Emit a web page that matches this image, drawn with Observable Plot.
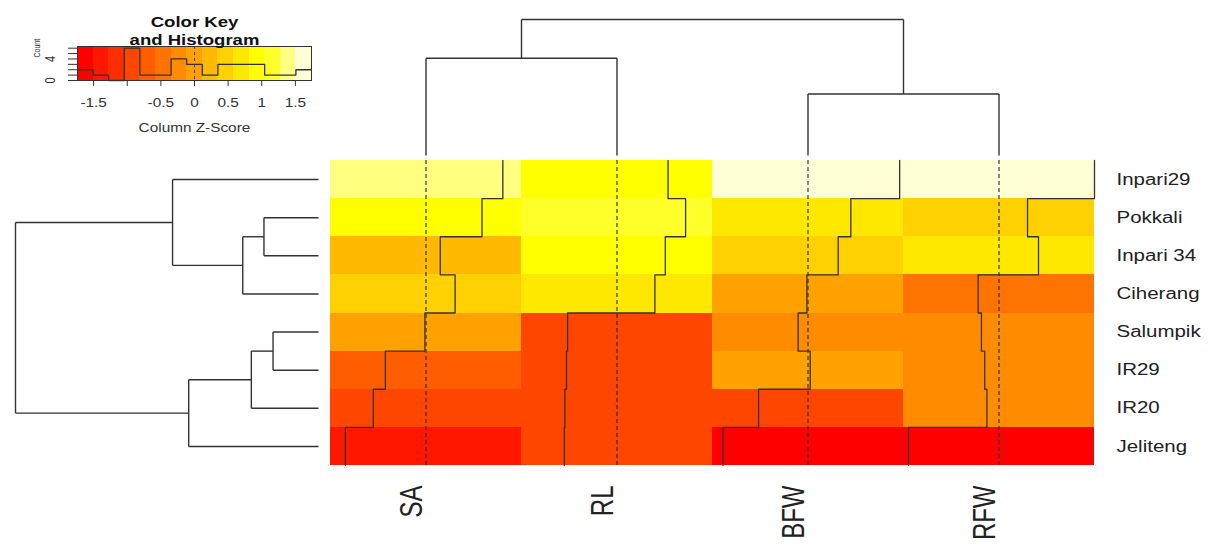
<!DOCTYPE html>
<html><head><meta charset="utf-8">
<script src="https://cdn.jsdelivr.net/npm/d3@7"></script>
<script src="https://cdn.jsdelivr.net/npm/@observablehq/plot@0.6"></script>
<style>
html,body{margin:0;padding:0;background:#fff;}
#chart{position:relative;width:1208px;height:546px;overflow:hidden;font-family:"Liberation Sans",Arial,sans-serif;}
#chart .layer{position:absolute;left:0;top:0;max-width:none !important;}
</style></head><body><div id="chart"></div>
<script>
// ---------- data ----------
const columns = ["SA", "RL", "BFW", "RFW"];
const rows = ["Inpari29", "Pokkali", "Inpari 34", "Ciherang", "Salumpik", "IR29", "IR20", "Jeliteng"];
// column z-scores per row (row order as displayed)
const zSA  = [1.40, 1.02, 0.26, 0.53, -0.02, -0.74, -0.96, -1.47];
const zRL  = [0.93, 1.25, 0.88, 0.69, -0.90, -0.92, -0.95, -0.96];
const zBFW = [1.67, 0.78, 0.55, -0.02, -0.18, 0.04, -0.90, -1.55];
const zRFW = [1.74, 0.52, 0.72, -0.38, -0.32, -0.26, -0.22, -1.65];
// dendrograms (hclust-style merges: negative = leaf, positive = earlier merge)
const rowMerge  = [[-2, -3], [1, -4], [-1, 2], [-5, -6], [4, -7], [5, -8], [3, 6]];
const rowHeight = [1.08, 1.50, 2.89, 0.90, 1.33, 2.57, 6.00];
const colMerge  = [[-1, -2], [-3, -4], [1, 2]];
const colHeight = [2.86, 1.81, 4.00];
// colour key
const keyLimit = 1.74;
const nColors = 15;
const keyTicks = [-1.5, -1, -0.5, 0, 0.5, 1, 1.5];
const keyTickLabels = ["-1.5", "", "-0.5", "0", "0.5", "1", "1.5"];
const countTicks = [0, 1, 2, 3, 4, 5, 6];
const countTickLabels = ["0", "", "", "", "4", "", ""];

// ---------- derived ----------
const L = keyLimit;
function heatColors(n) {
  const j = Math.floor(n / 4), i = n - j, out = [];
  for (let k = 0; k < i; k++) out.push(d3.hsl((i > 1 ? k / (i - 1) : 0) * 60, 1, 0.5).formatHex());
  const s0 = 1 - 1 / (2 * j), s1 = 1 / (2 * j);
  for (let k = 0; k < j; k++) {
    const s = j > 1 ? s0 + k * (s1 - s0) / (j - 1) : 0.5;
    out.push(d3.rgb(255, 255, Math.round(255 * (1 - s))).formatHex());
  }
  return out;
}
const breaks = d3.range(nColors + 1).map(k => -L + k * 2 * L / nColors);
const palette = heatColors(nColors);
const colorScale = {type: "threshold", domain: breaks.slice(1, -1), range: palette};
const colValues = [zSA, zRL, zBFW, zRFW];
const cells = columns.flatMap((c, ci) => rows.map((r, ri) => ({col: ci, row: ri, z: colValues[ci][ri]})));
const frac = z => (z + L) / (2 * L);
const trace = columns.flatMap((c, ci) => rows.flatMap((r, ri) => {
  const x = ci + frac(colValues[ci][ri]);
  return [{col: c, x, y: ri}, {col: c, x, y: ri + 1}];
}));
function dendro(merge, heights) {
  const pos = [], segs = [];
  const P = m => m < 0 ? (-m - 1) + 0.5 : pos[m - 1];
  const H = m => m < 0 ? 0 : heights[m - 1];
  merge.forEach(([a, b], k) => {
    const h = heights[k];
    pos[k] = (P(a) + P(b)) / 2;
    segs.push({p1: P(a), h1: h, p2: P(b), h2: h});
    segs.push({p1: P(a), h1: H(a), p2: P(a), h2: h});
    segs.push({p1: P(b), h1: H(b), p2: P(b), h2: h});
  });
  return segs;
}
const allZ = colValues.flat();
const hist = breaks.slice(0, -1).map((b, k) => ({x1: b, x2: breaks[k + 1], count: 0}));
allZ.forEach(z => {
  let k = Math.floor((z + L) / (2 * L / nColors));
  k = Math.max(0, Math.min(nColors - 1, k));
  hist[k].count++;
});
const maxCount = d3.max(hist, d => d.count);
const histLine = hist.map(d => ({x: d.x1, y: d.count})).concat([{x: L, y: hist[nColors - 1].count}]);

const font = "'Liberation Sans', Arial, sans-serif";
const lineCol = "#333";

// ---------- main heatmap ----------
const main = Plot.plot({
  width: 1208, height: 546,
  marginLeft: 330, marginRight: 114, marginTop: 160, marginBottom: 81,
  x: {domain: [0, 4], range: [330, 1094], axis: null},
  y: {domain: [0, 8], range: [160, 465], axis: null},
  color: colorScale,
  style: {fontFamily: font, background: "transparent"},
  marks: [
    Plot.rect(cells, {x1: "col", x2: d => d.col + 1, y1: "row", y2: d => d.row + 1, fill: "z", shapeRendering: "crispEdges"}),
    Plot.ruleX(columns.map((c, i) => i + 0.5), {y1: 0, y2: 8, stroke: "#1f2a44", strokeDasharray: "4,3", strokeWidth: 1.1}),
    Plot.line(trace, {x: "x", y: "y", z: "col", stroke: lineCol, strokeWidth: 1.3}),
    Plot.text(rows, {x: 4, y: (d, i) => i + 0.5, text: d => d, textAnchor: "start", dx: 22, fontSize: 16, fill: "#222"}),
    Plot.text(columns, {x: (d, i) => i + 0.5, y: 8, text: d => d, rotate: -90, textAnchor: "end", lineAnchor: "middle", dx: -14, dy: 20, fontSize: 24, fill: "#222"})
  ]
});

// ---------- row dendrogram ----------
const rowDendro = Plot.plot({
  width: 330, height: 546, marginLeft: 15, marginRight: 12, marginTop: 160, marginBottom: 81,
  x: {domain: [0, rowHeight[rowHeight.length - 1]], range: [318, 15], axis: null},
  y: {domain: [0, 8], range: [160, 465], axis: null},
  style: {background: "transparent"},
  marks: [
    Plot.link(dendro(rowMerge, rowHeight), {x1: "h1", y1: "p1", x2: "h2", y2: "p2", stroke: lineCol, strokeWidth: 1.4})
  ]
});

// ---------- column dendrogram ----------
const colDendro = Plot.plot({
  width: 1208, height: 160, marginLeft: 330, marginRight: 114, marginTop: 19, marginBottom: 5,
  x: {domain: [0, 4], range: [330, 1094], axis: null},
  y: {domain: [0, colHeight[colHeight.length - 1]], range: [155, 19], axis: null},
  style: {background: "transparent"},
  marks: [
    Plot.link(dendro(colMerge, colHeight), {x1: "p1", y1: "h1", x2: "p2", y2: "h2", stroke: lineCol, strokeWidth: 1.4})
  ]
});

// ---------- colour key ----------
const yTop = maxCount / 0.95;
const key = Plot.plot({
  width: 330, height: 150, marginLeft: 77, marginRight: 19, marginTop: 46, marginBottom: 70,
  x: {domain: [-L, L]},
  y: {domain: [0, yTop]},
  color: colorScale,
  style: {fontFamily: font, background: "transparent", color: "#333"},
  marks: [
    Plot.rect(hist, {x1: "x1", x2: "x2", y1: 0, y2: yTop, fill: d => (d.x1 + d.x2) / 2, shapeRendering: "crispEdges"}),
    Plot.ruleX([0], {stroke: "#5a3a1a", strokeDasharray: "3,3", strokeWidth: 1}),
    Plot.line(histLine, {x: "x", y: "y", curve: "step-after", stroke: lineCol, strokeWidth: 1.3}),
    Plot.frame({stroke: "#333", strokeWidth: 1}),
    Plot.axisX(keyTicks, {tickSize: 6, tickPadding: 12, tickFormat: d => keyTickLabels[keyTicks.indexOf(d)], fontSize: 12, label: null, fill: "#333", stroke: "#333"}),
    Plot.axisY(countTicks, {anchor: "left", tickSize: 9, tickFormat: () => "", label: null, stroke: "#333"}),
    Plot.text(countTicks.filter((d, i) => countTickLabels[i]), {x: -L, y: d => d, text: d => countTickLabels[countTicks.indexOf(d)], rotate: -90, dx: -27, fontSize: 11, fill: "#333"}),
    Plot.text(["Count"], {frameAnchor: "left", dx: -40, dy: -6, rotate: -90, fontSize: 7, fill: "#333"}),
    Plot.text(["Color Key"], {frameAnchor: "top", lineAnchor: "middle", dy: -24, fontSize: 14.5, fontWeight: "bold", fill: "#111"}),
    Plot.text(["and Histogram"], {frameAnchor: "top", lineAnchor: "middle", dy: -6, fontSize: 14.5, fontWeight: "bold", fill: "#111"}),
    Plot.text(["Column Z-Score"], {frameAnchor: "bottom", lineAnchor: "middle", dy: 48, fontSize: 12, fill: "#333"})
  ]
});

const chart = document.getElementById("chart");
for (const s of [main, rowDendro, colDendro, key]) {
  s.classList.add("layer");
  s.style.maxWidth = "none";
  chart.appendChild(s);
}

// the reference figure is horizontally stretched: widen glyphs accordingly
function stretchText(svg, s) {
  svg.querySelectorAll("text").forEach(t => {
    if (!t.textContent) return;
    const r = t.getBoundingClientRect();
    const anchor = getComputedStyle(t).textAnchor;
    const rotated = /rotate/.test(t.getAttribute("transform") || "");
    let sx = rotated || anchor === "middle" ? (r.left + r.right) / 2 : anchor === "end" ? r.right : r.left;
    const m = t.parentNode.getScreenCTM().inverse();
    const p = svg.createSVGPoint(); p.x = sx; p.y = r.top;
    const cx = p.matrixTransform(m).x;
    const old = t.getAttribute("transform") || "";
    t.setAttribute("transform", `translate(${cx},0) scale(${s},1) translate(${-cx},0) ${old}`);
  });
}
for (const s of [main, key]) stretchText(s, 1.28);
</script></body></html>
